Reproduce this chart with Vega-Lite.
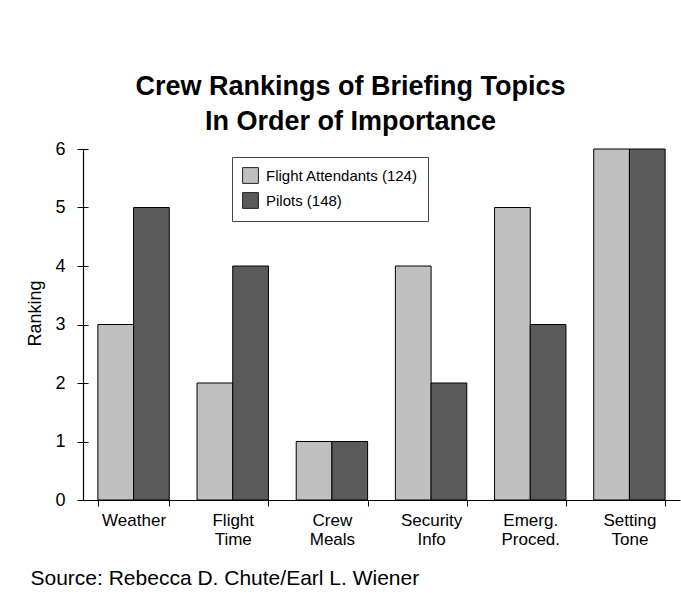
{
  "$schema": "https://vega.github.io/schema/vega-lite/v6.json",
  "width": 597,
  "height": 351,
  "autosize": {"type": "none"},
  "padding": {"left": 83, "top": 149, "right": 1, "bottom": 94},
  "background": "white",
  "title": {
    "text": ["Crew Rankings of Briefing Topics", "In Order of Importance"],
    "font": "Liberation Sans",
    "fontSize": 27,
    "fontWeight": "bold",
    "color": "black",
    "lineHeight": 35,
    "anchor": "middle",
    "dx": -31,
    "offset": 4
  },
  "data": {
    "values": [
      {"topic": "Weather", "group": "Flight Attendants (124)", "rank": 3},
      {"topic": "Weather", "group": "Pilots (148)", "rank": 5},
      {"topic": "Flight Time", "group": "Flight Attendants (124)", "rank": 2},
      {"topic": "Flight Time", "group": "Pilots (148)", "rank": 4},
      {"topic": "Crew Meals", "group": "Flight Attendants (124)", "rank": 1},
      {"topic": "Crew Meals", "group": "Pilots (148)", "rank": 1},
      {"topic": "Security Info", "group": "Flight Attendants (124)", "rank": 4},
      {"topic": "Security Info", "group": "Pilots (148)", "rank": 2},
      {"topic": "Emerg. Proced.", "group": "Flight Attendants (124)", "rank": 5},
      {"topic": "Emerg. Proced.", "group": "Pilots (148)", "rank": 3},
      {"topic": "Setting Tone", "group": "Flight Attendants (124)", "rank": 6},
      {"topic": "Setting Tone", "group": "Pilots (148)", "rank": 6}
    ]
  },
  "encoding": {
    "x": {
      "field": "topic",
      "type": "nominal",
      "sort": null,
      "scale": {"paddingInner": 0.28, "paddingOuter": 0.15},
      "axis": {
        "title": "Source: Rebecca D. Chute/Earl L. Wiener",
        "titleFont": "Liberation Sans",
        "titleFontSize": 21,
        "titleFontWeight": "normal",
        "titleColor": "black",
        "titleAnchor": "start",
        "titleAlign": "left",
        "titleBaseline": "alphabetic",
        "titleX": -53,
        "titleY": 84,
        "labelAngle": 0,
        "labelExpr": "split(datum.label, ' ')",
        "labelFont": "Liberation Sans",
        "labelFontSize": 17,
        "labelLineHeight": 19,
        "labelColor": "black",
        "labelPadding": 6,
        "tickBand": "extent",
        "tickSize": 6,
        "tickColor": "black",
        "domainColor": "black",
        "grid": false
      }
    },
    "xOffset": {"field": "group", "type": "nominal"}
  },
  "layer": [
    {
      "mark": {"type": "bar", "stroke": "black", "strokeWidth": 1, "opacity": 1},
      "encoding": {
        "y": {
          "field": "rank",
          "type": "quantitative",
          "scale": {"domain": [0, 6], "nice": false},
          "axis": {
            "title": "Ranking",
            "titleFont": "Liberation Sans",
            "titleFontSize": 18,
            "titleFontWeight": "normal",
            "titleColor": "black",
            "titleBaseline": "middle",
            "titleX": -48,
            "titleY": 164,
            "values": [0, 1, 2, 3, 4, 5, 6],
            "labelFont": "Liberation Sans",
            "labelFontSize": 18,
            "labelColor": "black",
            "labelPadding": 12,
            "labelOverlap": false,
            "tickSize": 6,
            "tickColor": "black",
            "domain": true,
            "domainColor": "black",
            "domainWidth": 1.2,
            "grid": false
          }
        },
        "fill": {
          "field": "group",
          "type": "nominal",
          "scale": {"range": ["#c0c0c0", "#5a5a5a"]},
          "legend": {
            "title": null,
            "orient": "none",
            "legendX": 149,
            "legendY": 8,
            "direction": "vertical",
            "symbolType": "square",
            "symbolSize": 250,
            "symbolStrokeColor": "#222222",
            "symbolStrokeWidth": 1,
            "symbolOpacity": 1,
            "labelFont": "Liberation Sans",
            "labelFontSize": 15,
            "labelColor": "black",
            "labelOffset": 7,
            "rowPadding": 4,
            "padding": 10,
            "strokeColor": "#444444",
            "fillColor": "white"
          }
        }
      }
    },
    {
      "mark": {"type": "bar", "opacity": 0},
      "encoding": {
        "y": {
          "field": "rank",
          "type": "quantitative",
          "axis": {
            "orient": "left",
            "title": null,
            "values": [0, 1, 2, 3, 4, 5, 6],
            "labels": false,
            "domain": false,
            "tickSize": -5,
            "tickColor": "black",
            "grid": false
          }
        }
      }
    }
  ],
  "resolve": {"axis": {"y": "independent"}},
  "config": {
    "view": {"stroke": null},
    "font": "Liberation Sans"
  }
}
